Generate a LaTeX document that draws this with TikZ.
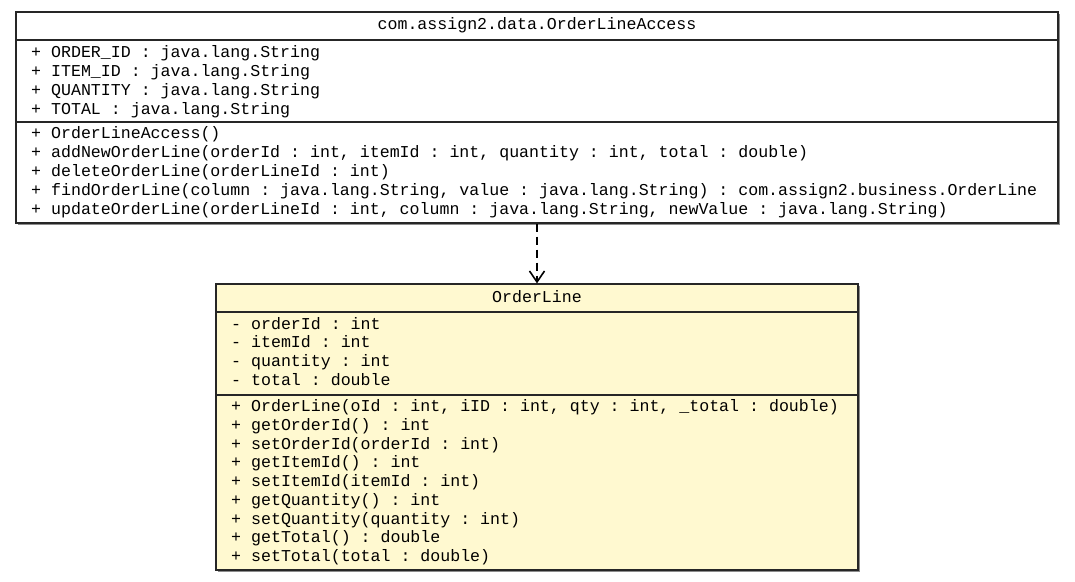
\documentclass[tikz,border=0pt]{standalone}
\usepackage{fontspec}
\setmonofont{Liberation Mono}
\usetikzlibrary{arrows.meta,shadows}

\definecolor{classfill}{RGB}{255,249,208}
\tikzset{
  umlbox/.style={draw=black!85, line width=1.2pt, inner sep=0pt,
    drop shadow={shadow xshift=1.5pt, shadow yshift=-1.5pt, fill=black!45, opacity=1}},
  umlline/.style={draw=black!85, line width=1.2pt},
  umltext/.style={anchor=base west, inner sep=0pt, font=\ttfamily\fontsize{16.6}{19}\selectfont},
  umltitle/.style={umltext, anchor=base},
  depends/.style={draw=black, line width=1.2pt, dash pattern=on 8pt off 5pt,
    -{Straight Barb[length=11pt,width=15pt,line width=1.6pt]}}
}

\begin{document}
\begin{tikzpicture}[x=1pt,y=-1pt]
\useasboundingbox (0,0) rectangle (1075,581);

% class boxes
\node[umlbox, fill=white, minimum width=1042pt, minimum height=211pt] (access) at (537,117.5) {};
\node[umlbox, fill=classfill, minimum width=642pt, minimum height=286pt] (orderline) at (537,427) {};

% compartments
\draw[umlline] (16,40) -- (1058,40)
               (16,122) -- (1058,122);
\draw[umlline] (216,312) -- (858,312)
               (216,395) -- (858,395);

% OrderLineAccess
\node[umltitle] (accname) at (537,29) {com.assign2.data.OrderLineAccess};
\foreach \txt [count=\i from 0] in {
    {+ ORDER\_ID : java.lang.String},
    {+ ITEM\_ID : java.lang.String},
    {+ QUANTITY : java.lang.String},
    {+ TOTAL : java.lang.String}}
  \node[umltext] (accattr\i) at (31,57+19*\i) {\txt};
\foreach \txt [count=\i from 0] in {
    {+ OrderLineAccess()},
    {+ addNewOrderLine(orderId : int, itemId : int, quantity : int, total : double)},
    {+ deleteOrderLine(orderLineId : int)},
    {+ findOrderLine(column : java.lang.String, value : java.lang.String) : com.assign2.business.OrderLine},
    {+ updateOrderLine(orderLineId : int, column : java.lang.String, newValue : java.lang.String)}}
  \node[umltext] (accop\i) at (31,138.5+19.1*\i) {\txt};

% OrderLine
\node[umltitle] (linename) at (537,302) {OrderLine};
\foreach \txt [count=\i from 0] in {
    {- orderId : int},
    {- itemId : int},
    {- quantity : int},
    {- total : double}}
  \node[umltext] (lineattr\i) at (231,329+18.75*\i) {\txt};
\foreach \txt [count=\i from 0] in {
    {+ OrderLine(oId : int, iID : int, qty : int, \_total : double)},
    {+ getOrderId() : int},
    {+ setOrderId(orderId : int)},
    {+ getItemId() : int},
    {+ setItemId(itemId : int)},
    {+ getQuantity() : int},
    {+ setQuantity(quantity : int)},
    {+ getTotal() : double},
    {+ setTotal(total : double)}}
  \node[umltext] (lineop\i) at (231,411.5+18.75*\i) {\txt};

% dependency
\draw[depends] (access.south) -- (orderline.north);
\end{tikzpicture}
\end{document}
